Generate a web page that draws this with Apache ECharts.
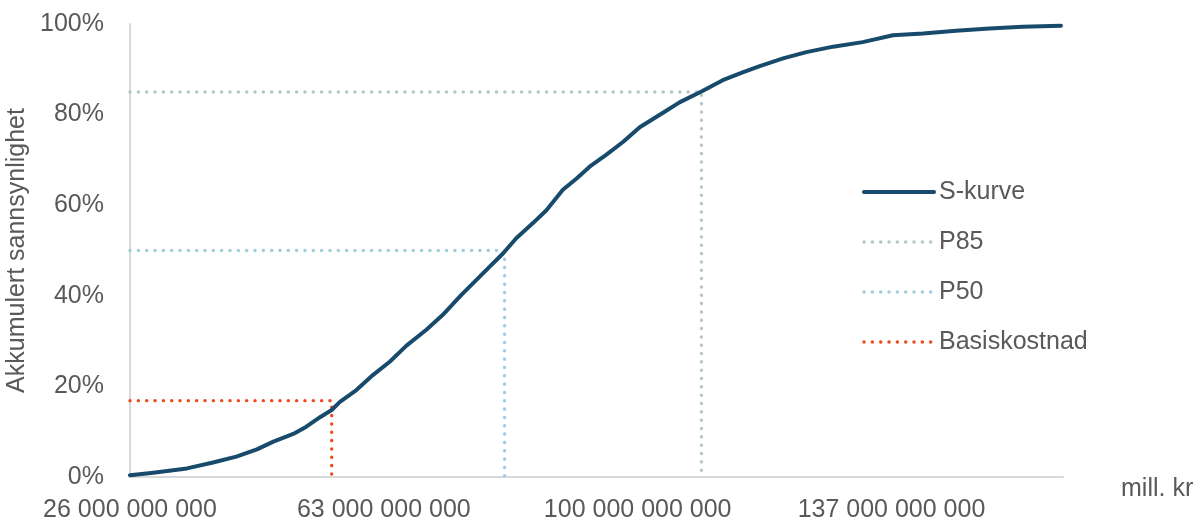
<!DOCTYPE html>
<html>
<head>
<meta charset="utf-8">
<script src="https://cdn.jsdelivr.net/npm/echarts@6/dist/echarts.min.js"></script>
<style>
  html, body { margin: 0; padding: 0; background: #ffffff; }
  #chart { width: 1204px; height: 529px; }
</style>
</head>
<body>
<div id="chart"></div>
<script>
// Cumulative probability of total cost (S-curve), cost in kr
const costs = [
  26.0e9, 29.4e9, 34.3e9, 38.1e9, 41.5e9, 44.5e9, 46.9e9, 49.8e9, 51.7e9, 53.7e9,
  55.4e9, 56.6e9, 59.0e9, 61.4e9, 63.9e9, 66.3e9, 69.2e9, 71.6e9, 74.3e9, 76.5e9,
  78.4e9, 80.4e9, 82.3e9, 84.7e9, 86.7e9, 89.1e9, 91.1e9, 93.0e9, 95.4e9, 97.9e9,
  100.3e9, 103.7e9, 106.1e9, 109.3e9, 112.4e9, 115.3e9, 117.8e9, 121.2e9, 124.6e9, 128.5e9,
  132.8e9, 137.2e9, 141.6e9, 146.4e9, 151.3e9, 156.1e9, 161.7e9
];
const cumulativePct = [
  0.4, 0.95, 1.9, 3.2, 4.5, 6.1, 7.8, 9.5, 11.1, 13.2,
  14.8, 16.6, 19.2, 22.5, 25.5, 29.0, 32.5, 35.8, 40.2, 43.5,
  46.4, 49.4, 52.7, 56.0, 58.9, 63.4, 65.9, 68.5, 71.1, 74.0,
  77.2, 80.4, 82.7, 85.1, 87.6, 89.3, 90.7, 92.4, 93.8, 95.0,
  96.0, 97.5, 97.9, 98.5, 99.0, 99.4, 99.6
];

// Reference points: [cost, cumulative %]
const p85 = [109.3e9, 85];
const p50 = [80.6e9, 50];
const basiskostnad = [55.4e9, 16.85];

// Axis settings
const xMin = 26e9, xMax = 162e9, xStep = 37e9;
const yTicks = [0, 20, 40, 60, 80, 100];

const colors = {
  'S-kurve': '#184a6c',
  'P85': '#b2c9c3',
  'P50': '#a3cbdf',
  'Basiskostnad': '#ef4a1c'
};

const textColor = '#595959';
const fontFamily = '"Liberation Sans", Arial, sans-serif';

function groupThousands(v) {
  return String(Math.round(v)).replace(/\B(?=(\d{3})+(?!\d))/g, ' ');
}

// Elbow guide: from the y axis across to the point, then down to the x axis
function guide(point) {
  return [[xMin, point[1]], [point[0], point[1]], [point[0], 0]];
}

const dotPattern = [0.1, 8.23];
const dotted = { type: dotPattern, cap: 'round', width: 3.4 };

function legendLine(name, width, type) {
  return { name: name, lineStyle: { width: width, color: colors[name], type: type, cap: 'round' } };
}

const chart = echarts.init(document.getElementById('chart'), null, { renderer: 'canvas' });

chart.setOption({
  animation: false,
  textStyle: { fontFamily: fontFamily },
  grid: { left: 130, right: 141, top: 24, bottom: 52, containLabel: false, outerBoundsMode: 'none' },
  legend: {
    orient: 'vertical',
    left: 857,
    top: 172,
    itemWidth: 70,
    itemHeight: 14,
    itemGap: 20,
    selectedMode: false,
    itemStyle: { opacity: 0 },
    textStyle: { color: textColor, fontSize: 25, lineHeight: 30, fontFamily: fontFamily },
    data: [
      legendLine('S-kurve', 4, 'solid'),
      legendLine('P85', 3.4, dotPattern),
      legendLine('P50', 3.4, dotPattern),
      legendLine('Basiskostnad', 3.4, dotPattern)
    ]
  },
  xAxis: {
    type: 'value',
    min: xMin,
    max: xMax,
    interval: xStep,
    name: 'mill. kr',
    nameLocation: 'end',
    nameGap: 58,
    nameTextStyle: { color: textColor, fontSize: 25, verticalAlign: 'top', padding: [0, 0, 0, 0] },
    axisLine: { show: true, lineStyle: { color: '#d9d9d9', width: 2 } },
    axisTick: { show: false },
    splitLine: { show: false },
    axisLabel: {
      color: textColor,
      fontSize: 25,
      margin: 21,
      showMaxLabel: false,
      formatter: groupThousands
    }
  },
  yAxis: {
    type: 'value',
    min: yTicks[0],
    max: yTicks[yTicks.length - 1],
    interval: yTicks[1] - yTicks[0],
    name: 'Akkumulert sannsynlighet',
    nameLocation: 'middle',
    nameGap: 88,
    nameTextStyle: { color: textColor, fontSize: 25 },
    axisLine: { show: true, lineStyle: { color: '#d9d9d9', width: 2 } },
    axisTick: { show: false },
    splitLine: { show: false },
    axisLabel: { color: textColor, fontSize: 25, margin: 26, formatter: '{value}%' }
  },
  series: [
    {
      name: 'S-kurve',
      type: 'line',
      z: 5,
      symbol: 'none',
      lineStyle: { width: 4, color: colors['S-kurve'], join: 'round', cap: 'round' },
      itemStyle: { color: colors['S-kurve'] },
      data: costs.map((c, i) => [c, cumulativePct[i]])
    },
    {
      name: 'P85',
      type: 'line',
      z: 2,
      symbol: 'none',
      lineStyle: Object.assign({ color: colors['P85'] }, dotted),
      itemStyle: { color: colors['P85'] },
      data: guide(p85)
    },
    {
      name: 'P50',
      type: 'line',
      z: 2,
      symbol: 'none',
      lineStyle: Object.assign({ color: colors['P50'] }, dotted),
      itemStyle: { color: colors['P50'] },
      data: guide(p50)
    },
    {
      name: 'Basiskostnad',
      type: 'line',
      z: 2,
      symbol: 'none',
      lineStyle: Object.assign({ color: colors['Basiskostnad'] }, dotted),
      itemStyle: { color: colors['Basiskostnad'] },
      data: guide(basiskostnad)
    }
  ]
});
</script>
</body>
</html>
